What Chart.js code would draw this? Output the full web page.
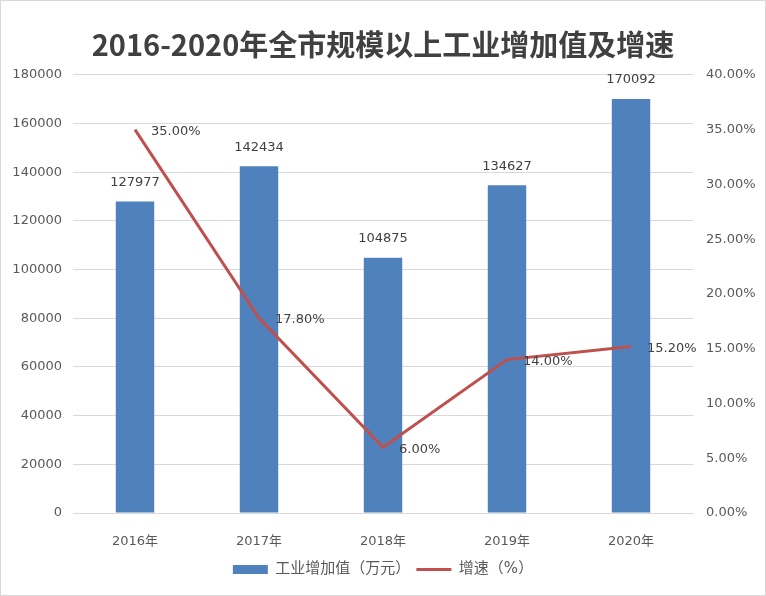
<!DOCTYPE html>
<html>
<head>
<meta charset="utf-8">
<script src="https://cdn.jsdelivr.net/npm/chart.js@4"></script>
<style>
    html, body { margin: 0; padding: 0; background: #ffffff; }
    #wrap { width: 766px; height: 596px; }
</style>
</head>
<body>
<div id="wrap"><canvas id="industryChart" width="766" height="596"></canvas></div>
<script>
// données
const years = ['2016年', '2017年', '2018年', '2019年', '2020年'];
const addedValue = [127977, 142434, 104875, 134627, 170092];
const growthRate = [35.00, 17.80, 6.00, 14.00, 15.20];

const baseFont = "'DejaVu Sans', 'Noto Sans CJK SC', sans-serif";
const tickColor = '#595959';
const gridColor = '#d9d9d9';

// étiquettes de valeurs (barres au-dessus, courbe à droite)
const valueLabels = {
    id: 'valueLabels',
    afterDatasetsDraw(chart) {
        const ctx = chart.ctx;
        ctx.save();
        ctx.font = '13px ' + baseFont;
        ctx.fillStyle = '#404040';
        ctx.textBaseline = 'middle';

        const barMeta = chart.getDatasetMeta(0);
        ctx.textAlign = 'center';
        barMeta.data.forEach((bar, i) => {
            ctx.fillText(String(addedValue[i]), bar.x, bar.y - 19);
        });

        const lineMeta = chart.getDatasetMeta(1);
        ctx.textAlign = 'left';
        lineMeta.data.forEach((pt, i) => {
            ctx.fillText(growthRate[i].toFixed(2) + '%', pt.x + 16, pt.y + 2);
        });
        ctx.restore();
    }
};

const frame = {
    id: 'frame',
    beforeDraw(chart) {
        const ctx = chart.ctx;
        ctx.save();
        ctx.fillStyle = '#ffffff';
        ctx.fillRect(0, 0, chart.width, chart.height);
        ctx.strokeStyle = '#d9d9d9';
        ctx.lineWidth = 1;
        ctx.strokeRect(0.5, 0.5, chart.width - 1, chart.height - 1);
        ctx.restore();
    }
};

new Chart(document.getElementById('industryChart'), {
    type: 'bar',
    data: {
        labels: years,
        datasets: [{
                label: '工业增加值（万元）',
                data: addedValue,
                backgroundColor: '#4f81bd',
                borderWidth: 0,
                categoryPercentage: 1,
                barPercentage: 0.31,
                pointStyle: 'rect',
                yAxisID: 'y',
                order: 2
            },
            {
                type: 'line',
                label: '增速（%）',
                data: growthRate,
                borderColor: '#c0504d',
                backgroundColor: '#c0504d',
                borderWidth: 3,
                pointRadius: 0,
                pointStyle: 'line',
                tension: 0,
                yAxisID: 'y1',
                order: 1
            }
        ]
    },
    options: {
        responsive: false,
        animation: false,
        devicePixelRatio: 1,
        layout: {
            padding: { left: 0, right: 0, top: 0, bottom: 9 }
        },
        scales: {
            x: {
                grid: { display: false },
                border: { display: true, color: gridColor },
                ticks: {
                    color: tickColor,
                    padding: 13,
                    font: { size: 13, family: baseFont }
                },
                afterFit(scale) { scale.height = 43; }
            },
            y: {
                position: 'left',
                min: 0,
                max: 180000,
                ticks: {
                    stepSize: 20000,
                    color: tickColor,
                    padding: 11,
                    font: { size: 13, family: baseFont },
                    callback: function (value) {
                        return String(value);
                    }
                },
                grid: { color: gridColor, drawTicks: false },
                border: { display: false },
                afterFit(scale) { scale.width = 73; }
            },
            y1: {
                position: 'right',
                min: 0,
                max: 40,
                ticks: {
                    stepSize: 5,
                    color: tickColor,
                    padding: 13,
                    font: { size: 13, family: baseFont },
                    callback: function (value) {
                        return value.toFixed(2) + '%';
                    }
                },
                grid: { drawOnChartArea: false, drawTicks: false },
                border: { display: false },
                afterFit(scale) { scale.width = 73; }
            }
        },
        plugins: {
            title: {
                display: true,
                text: '2016-2020年全市规模以上工业增加值及增速',
                color: '#404040',
                font: { size: 29, weight: 'bold', family: "'Noto Sans CJK SC', sans-serif" },
                padding: { top: 28, bottom: 12 }
            },
            legend: {
                position: 'bottom',
                labels: {
                    usePointStyle: true,
                    pointStyleWidth: 35,
                    boxHeight: 9,
                    padding: 6,
                    color: tickColor,
                    font: { size: 15, family: baseFont },
                    sort: (a, b) => a.datasetIndex - b.datasetIndex
                }
            },
            tooltip: { enabled: false }
        }
    },
    plugins: [frame, valueLabels]
});
</script>
</body>
</html>
